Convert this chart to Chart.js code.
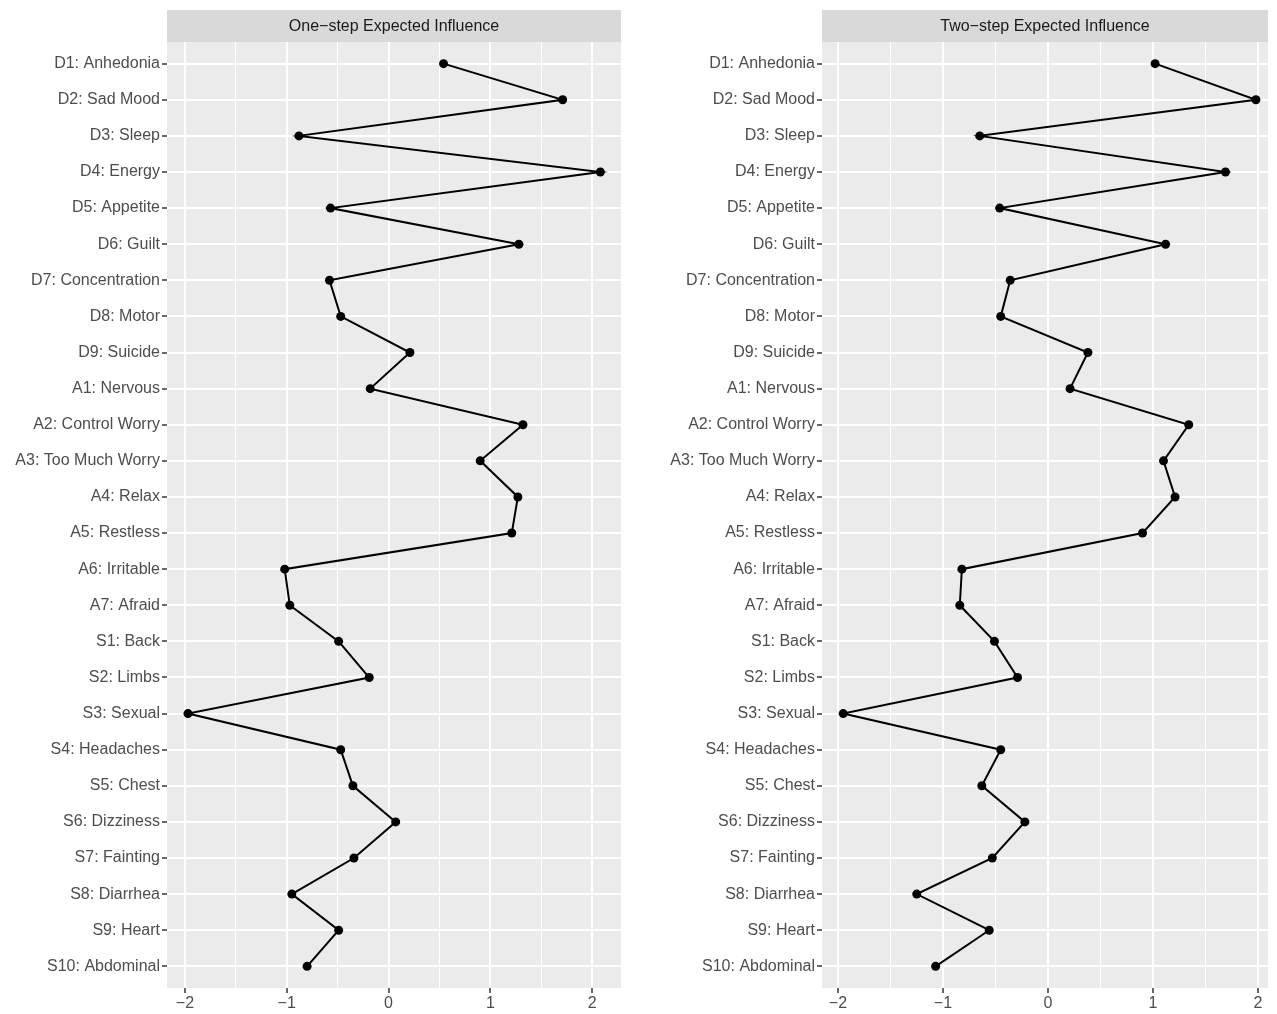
<!DOCTYPE html>
<html>
<head>
<meta charset="utf-8">
<script src="https://cdn.jsdelivr.net/npm/chart.js@4/dist/chart.umd.min.js"></script>
<style>
  html, body { margin: 0; padding: 0; background: #fff; overflow: hidden; }
  .panel { position: absolute; top: 0; height: 1014px; }
</style>
</head>
<body>
<div class="panel" id="leftBox" style="left:0;width:640px"><canvas id="leftChart"></canvas></div>
<div class="panel" id="rightBox" style="left:640px;width:637px"><canvas id="rightChart"></canvas></div>
<script>
const categories = [
  'D1: Anhedonia', 'D2: Sad Mood', 'D3: Sleep', 'D4: Energy', 'D5: Appetite',
  'D6: Guilt', 'D7: Concentration', 'D8: Motor', 'D9: Suicide',
  'A1: Nervous', 'A2: Control Worry', 'A3: Too Much Worry', 'A4: Relax',
  'A5: Restless', 'A6: Irritable', 'A7: Afraid',
  'S1: Back', 'S2: Limbs', 'S3: Sexual', 'S4: Headaches', 'S5: Chest',
  'S6: Dizziness', 'S7: Fainting', 'S8: Diarrhea', 'S9: Heart', 'S10: Abdominal'
];

const oneStep = [0.54, 1.71, -0.88, 2.08, -0.57, 1.28, -0.58, -0.47, 0.21,
  -0.18, 1.32, 0.90, 1.27, 1.21, -1.02, -0.97,
  -0.49, -0.19, -1.97, -0.47, -0.35, 0.07, -0.34, -0.95, -0.49, -0.80];

const twoStep = [1.02, 1.98, -0.65, 1.69, -0.46, 1.12, -0.36, -0.45, 0.38,
  0.21, 1.34, 1.10, 1.21, 0.90, -0.82, -0.84,
  -0.51, -0.29, -1.95, -0.45, -0.63, -0.22, -0.53, -1.25, -0.56, -1.07];

const xTicks = [-2, -1.5, -1, -0.5, 0, 0.5, 1, 1.5, 2];
const leftRange = [-2.176, 2.283];
const rightRange = [-2.152, 2.095];

const panelTitles = ['One\u2212step Expected Influence', 'Two\u2212step Expected Influence'];

const FONT = '"Liberation Sans", Arial, sans-serif';

// grey panel + facet strip, ggplot style
const stripPlugin = {
  id: 'strip',
  beforeDraw(chart, args, opts) {
    const { ctx, chartArea: a } = chart;
    ctx.save();
    ctx.fillStyle = '#EBEBEB';
    ctx.fillRect(a.left, a.top, a.right - a.left, a.bottom - a.top);
    ctx.fillStyle = '#D9D9D9';
    ctx.fillRect(a.left, 10, a.right - a.left, a.top - 10);
    ctx.fillStyle = '#1A1A1A';
    ctx.font = '16px ' + FONT;
    ctx.textAlign = 'center';
    ctx.textBaseline = 'middle';
    ctx.fillText(opts.text, (a.left + a.right) / 2, (10 + a.top) / 2 + 1);
    ctx.restore();
  }
};

function fmt(v) {
  if (!Number.isInteger(v)) return '';
  return v < 0 ? '\u2212' + Math.abs(v) : String(v);
}

function makePanel(canvasId, title, values, range, yAxisWidth, padRight) {
  const n = categories.length;

  return new Chart(document.getElementById(canvasId), {
    type: 'line',
    data: {
      datasets: [{
        data: values.map((v, i) => ({ x: v, y: i })),
        borderColor: '#000',
        borderWidth: 2,
        pointRadius: 4.5,
        pointBackgroundColor: '#000',
        pointBorderWidth: 0,
        tension: 0
      }]
    },
    options: {
      responsive: true,
      maintainAspectRatio: false,
      animation: false,
      layout: { padding: { top: 42, right: padRight, left: 0, bottom: 0 } },
      plugins: {
        legend: { display: false },
        tooltip: { enabled: false },
        strip: { text: title }
      },
      scales: {
        x: {
          type: 'linear',
          min: range[0],
          max: range[1],
          afterBuildTicks: (s) => { s.ticks = xTicks.map(v => ({ value: v })); },
          afterFit: (s) => { s.height = 26; s.paddingLeft = 0; s.paddingRight = 0; },
          border: { display: false },
          grid: {
            color: '#FFFFFF',
            lineWidth: (c) => Number.isInteger(c.tick.value) ? 2 : 1,
            tickColor: (c) => Number.isInteger(c.tick.value) ? '#333333' : 'rgba(0,0,0,0)',
            tickWidth: 1.5,
            tickLength: 5
          },
          ticks: {
            color: '#4D4D4D',
            font: { family: FONT, size: 16 },
            padding: 1,
            maxRotation: 0,
            autoSkip: false,
            callback: (v) => fmt(v)
          }
        },
        y: {
          type: 'linear',
          reverse: true,
          min: -0.6,
          max: n - 1 + 0.6,
          afterBuildTicks: (s) => { s.ticks = categories.map((c, i) => ({ value: i })); },
          afterFit: (s) => { s.width = yAxisWidth; s.paddingTop = 0; s.paddingBottom = 0; },
          border: { display: false },
          grid: {
            color: '#FFFFFF',
            lineWidth: 2,
            tickColor: '#333333',
            tickWidth: 1.5,
            tickLength: 5
          },
          ticks: {
            color: '#4D4D4D',
            font: { family: FONT, size: 16 },
            padding: 2,
            autoSkip: false,
            callback: (v) => categories[v]
          }
        }
      }
    },
    plugins: [stripPlugin]
  });
}

makePanel('leftChart', panelTitles[0], oneStep, leftRange, 167, 19);
makePanel('rightChart', panelTitles[1], twoStep, rightRange, 182, 9);
</script>
</body>
</html>
